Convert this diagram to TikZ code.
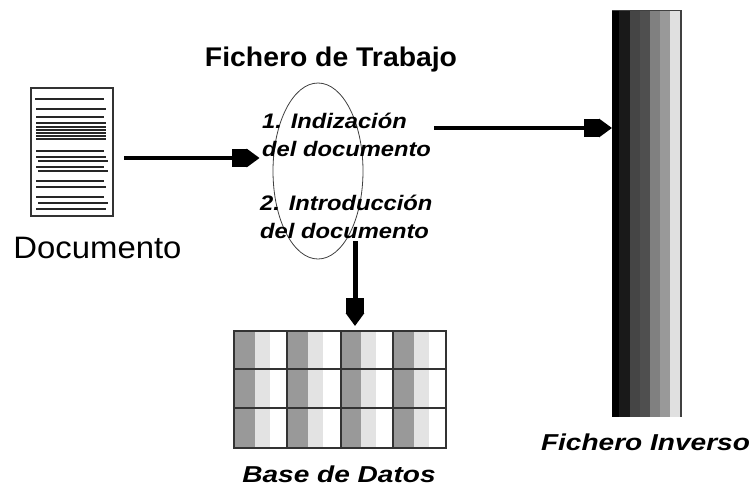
\documentclass[tikz,border=0pt]{standalone}
\usepackage{fontspec}
\setmainfont{Liberation Sans}
\usetikzlibrary{arrows.meta,shapes.geometric}
\tikzset{
  flow/.style={line width=#1,line cap=butt,-{Rectangle[length=15pt,width=18pt,sep=0pt]Triangle[length=13pt,width=18pt]}},
  rule/.style={line width=1.3pt,black!85},
  title/.style={inner sep=0pt,anchor=center,font=\fontsize{27}{27}\selectfont\bfseries\addfontfeatures{FakeStretch=1.05}},
  plain/.style={inner sep=0pt,anchor=center,font=\fontsize{31}{31}\selectfont\addfontfeatures{FakeStretch=1.06}},
  emph/.style={inner sep=0pt,anchor=center,font=\fontsize{23}{23}\selectfont\bfseries\itshape\addfontfeatures{FakeStretch=1.22}},
  stepnode/.style={inner sep=0pt,anchor=west,align=left,font=\fontsize{21}{28}\selectfont\bfseries\itshape\addfontfeatures{FakeStretch=1.13}},
  cellframe/.style={line width=1.7pt,black!80},
  box/.style={inner sep=0pt,outer sep=0pt,minimum width=#1},
}
\begin{document}
\begin{tikzpicture}[x=1pt,y=-1pt]
\useasboundingbox (0,0) rectangle (752,488);
\fill[white] (0,0) rectangle (752,488);
% document
\node[box=82pt,minimum height=128pt,draw=black!80,line width=1.4pt] (doc) at (72,152) {};
\foreach \ya/\xa/\xb in {99/35/104,109/36/106,117/36/104,123/36/106,127/36/106,130/36/106,133/36/106,136/36/106,139/36/106,151/36/104,157/36/106,161/38/108,167/36/104,171/38/108,181/36/104,187/36/106,197/36/104,203/38/108,209/36/106}
  \draw[rule] (\xa,\ya) -- (\xb,\ya);
\node[plain] (doclabel) at (97.5,248) {Documento};
% working file
\node[draw=black!75,line width=.8pt,ellipse,minimum width=90pt,minimum height=176pt,inner sep=0pt] (work) at (318,171) {};
\node[title] (worklabel) at (331,60) {Fichero de Trabajo};
\node[stepnode] (first) at (262,135) {1. Indización\\del documento};
\node[stepnode] (second) at (260,217) {2. Introducción\\del documento};
% database
\node[box=212pt,minimum height=117pt] (db) at (340,389.5) {};
\foreach \xa/\xb in {234/287,287/341,341/393,393/446}{
  \fill[black!40] (\xa,331) rectangle ({\xa+.39*(\xb-\xa)},448);
  \fill[black!11] ({\xa+.39*(\xb-\xa)},331) rectangle ({\xa+.67*(\xb-\xa)},448);
}
\draw[cellframe] (234,331) rectangle (446,448);
\foreach \xa in {287,341,393} \draw[cellframe] (\xa,331) -- (\xa,448);
\foreach \ya in {369,408} \draw[cellframe] (234,\ya) -- (446,\ya);
\node[emph] (dblabel) at (339,474.5) {Base de Datos};
% inverted file
\node[box=70pt,minimum height=407pt] (inv) at (647,213.5) {};
\foreach \xa/\xb/\c in {612/619/0,619/630/10,630/640/27,640/650/31,650/660/50,660/670/60,670/680/88}{
  \pgfmathsetmacro{\k}{100-\c}
  \fill[black!\k] (\xa,10) rectangle (\xb,417);
}
\draw[black!75,line width=1pt] (612,10) -- (682,10);
\draw[black!75,line width=1.6pt] (681,10) -- (681,417);
\node[emph] (invtext) at (645.5,442) {Fichero Inverso};
% connectors
\draw[flow=4.5pt] ([shift={(11,6)}]doc.east) -- ([shift={(-13,-13)}]work.west);
\draw[flow=3.5pt] ([shift={(3,-7)}]first.east) -- ([shift={(0,-85.5)}]inv.west);
\draw[flow=5pt] ([shift={(15,2)}]second.south -| db.north) -- ([shift={(15,-5)}]db.north);
\end{tikzpicture}
\end{document}
